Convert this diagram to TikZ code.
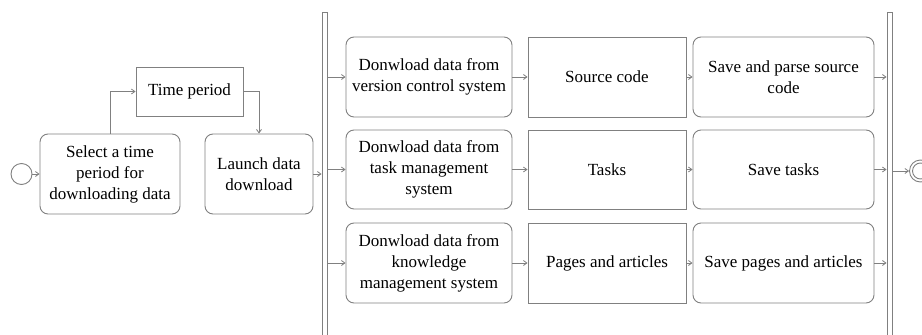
\documentclass[tikz,border=0pt]{standalone}
\usepackage{fontspec}
\setmainfont{Liberation Serif}
\usetikzlibrary{arrows.meta}
\definecolor{ln}{HTML}{808080}
\begin{document}
\begin{tikzpicture}[x=1pt,y=-1pt,
  every node/.style={font=\fontsize{17}{21}\selectfont},
  act/.style={draw=ln,line width=0.9pt,rounded corners=8pt,align=center,inner sep=0pt},
  obj/.style={draw=ln,line width=0.9pt,align=center,inner sep=0pt},
  bar/.style={draw=ln,line width=0.9pt},
  flow/.style={draw=ln,line width=0.8pt,-{Straight Barb[length=3.5pt,width=5pt]}}]
\useasboundingbox (0,0) rectangle (922,335);
% start
\node[draw=ln,line width=0.9pt,circle,minimum size=21pt,inner sep=0pt] (start) at (21.5,174) {};
\node[act,minimum width=140pt,minimum height=80pt] (sel) at (110,174) {Select a time\\period for\\downloading data};
\node[obj,minimum width=107pt,minimum height=49pt] (tp) at (189.5,91.5) {Time period};
\node[act,minimum width=108pt,minimum height=80pt] (launch) at (259,174) {Launch data\\download};
% bars
\node[bar,rectangle,minimum width=5pt,minimum height=330pt,inner sep=0pt,anchor=north] (lbar) at (324.5,12) {};
\node[bar,rectangle,minimum width=5pt,minimum height=330pt,inner sep=0pt,anchor=north] (rbar) at (889.5,12) {};
% rows
\node[act,minimum width=166pt,minimum height=80pt] (d1) at (429,77) {Donwload data from\\version control system};
\node[act,minimum width=166pt,minimum height=79pt] (d2) at (429,169.5) {Donwload data from\\task management\\system};
\node[act,minimum width=166pt,minimum height=80pt] (d3) at (429,263) {Donwload data from\\knowledge\\management system};
\node[obj,minimum width=158pt,minimum height=80pt] (o1) at (607,77) {Source code};
\node[obj,minimum width=158pt,minimum height=79pt] (o2) at (607,169.5) {Tasks};
\node[obj,minimum width=158pt,minimum height=80pt] (o3) at (607,263) {Pages and articles};
\node[act,minimum width=181pt,minimum height=80pt] (s1) at (783.5,77) {Save and parse source\\code};
\node[act,minimum width=181pt,minimum height=79pt] (s2) at (783.5,169.5) {Save tasks};
\node[act,minimum width=181pt,minimum height=80pt] (s3) at (783.5,263) {Save pages and articles};
% end
\node[draw=ln,line width=0.9pt,circle,minimum size=22pt,inner sep=0pt] (end) at (920.5,171) {};
\node[draw=ln,line width=0.9pt,circle,minimum size=16pt,inner sep=0pt] (endin) at (920.5,171) {};
% connectors
\draw[flow] (start) -- (sel);
\draw[flow] (sel.north) |- (tp.west);
\draw[flow] (tp.east) -| (launch.north);
\draw[flow] (launch.east) -- (launch.east -| lbar.west);
\foreach \r in {1,2,3}{
  \draw[flow] (lbar.east |- d\r.west) -- (d\r.west);
  \draw[flow] (d\r) -- (o\r);
  \draw[flow] (o\r) -- (s\r);
  \draw[flow] (s\r.east) -- (s\r.east -| rbar.west);
}
\draw[flow] (rbar.east |- end.west) -- (end.west);
\end{tikzpicture}
\end{document}
